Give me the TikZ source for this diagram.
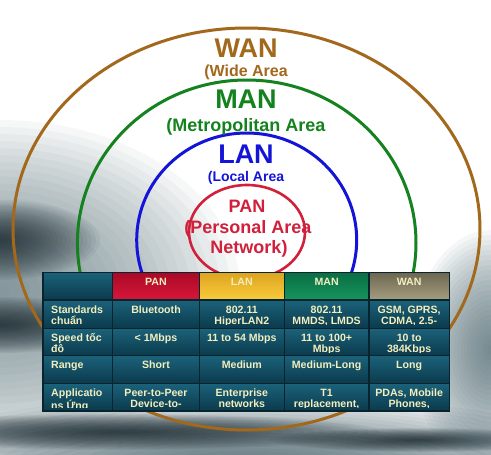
\documentclass[tikz,border=0pt]{standalone}
\usepackage{fontspec}
\setmainfont{Liberation Sans}
\definecolor{wanc}{HTML}{A2681C}
\definecolor{manc}{HTML}{14821E}
\definecolor{lanc}{HTML}{1414D8}
\definecolor{panc}{HTML}{D0203C}
\definecolor{txtc}{HTML}{F2EEBE}
\definecolor{gridc}{HTML}{08242E}
\definecolor{tealtop}{HTML}{1B627A}
\definecolor{tealbot}{HTML}{0B3A4C}
\definecolor{redtop}{HTML}{A80A26}
\definecolor{redbot}{HTML}{D8163A}
\definecolor{goldtop}{HTML}{DCA420}
\definecolor{goldbot}{HTML}{FACC3C}
\definecolor{greentop}{HTML}{0A6E44}
\definecolor{greenbot}{HTML}{16945E}
\definecolor{khakitop}{HTML}{6C6650}
\definecolor{khakibot}{HTML}{A69E80}
\definecolor{hazec}{HTML}{5F7780}
\definecolor{darkc}{HTML}{0E1E24}
\definecolor{bandc}{HTML}{2E4A55}
\definecolor{sidec}{HTML}{4A6670}
\newcommand\blob[5]{\foreach \k in {1,...,24}{\fill[#5,opacity=0.05] (#1,#2) ellipse ({#3*\k/24} and {#4*\k/24});}}
\newcommand\strutx{\vrule height 10pt depth 0pt width 0pt\relax}
\newcommand\tcellL[6]{%
  \begin{scope}
    \clip (#2,#4) rectangle (#3,#4+24.6);
    \node[celltxt, anchor=north west, align=left] (#1) at (#2+8, #4+3) {\lineskiplimit=-20pt\relax\strutx #6};
  \end{scope}}
\newcommand\tcellC[6]{%
  \begin{scope}
    \clip (#2,#4) rectangle (#3,#4+24.6);
    \node[celltxt, anchor=north, align=center] (#1) at ({(#2+#3)/2}, #4+3) {\lineskiplimit=-20pt\relax\strutx #6};
  \end{scope}}
\newcommand\tbg[6]{\shade[top color=#5, bottom color=#6] (#1,#3) rectangle (#2,#4);}
\begin{document}
\begin{tikzpicture}[x=1pt,y=-1pt,
  ring/.style={line width=3pt},
  bigtxt/.style={font=\fontsize{27}{30}\selectfont\bfseries, inner sep=0},
  subtxt/.style={inner sep=0},
  celltxt/.style={text=txtc, inner sep=0, font=\fontsize{10.6}{11.3}\selectfont\bfseries}]
\useasboundingbox (0,0) rectangle (491,455);
\fill[white] (0,0) rectangle (491,455);
% background swooshes
\begin{scope}
  \clip (0,0) rectangle (491,455);
  \blob{0}{290}{240}{170}{hazec}
  \blob{0}{240}{100}{40}{darkc}
  \blob{0}{325}{130}{28}{darkc}
  \blob{245}{470}{380}{75}{bandc}
  \blob{120}{432}{260}{18}{darkc}
  \blob{420}{440}{150}{12}{darkc}
  \blob{491}{350}{80}{120}{sidec}
\end{scope}
% rings
\draw[ring, wanc] (246.5,229) ellipse (233.5 and 201);
\draw[ring, manc] (246.7,243) ellipse (169.3 and 163);
\draw[ring, lanc] (246.7,240) ellipse (110 and 107);
\draw[line width=2.6pt, panc] (247,232) ellipse (58 and 47);
% ring labels
\node[bigtxt, text=wanc, anchor=base] (wan) at (246,57) {WAN};
\node[subtxt, text=wanc, anchor=base, font=\fontsize{16}{18}\selectfont\bfseries] (wansub) at (246,77) {(Wide Area};
\node[bigtxt, text=manc, anchor=base] (man) at (246,108) {MAN};
\node[subtxt, text=manc, anchor=base, font=\fontsize{18}{20}\selectfont\bfseries] (mansub) at (246,131) {(Metropolitan Area};
\node[bigtxt, text=lanc, anchor=base] (lan) at (246,163) {LAN};
\node[subtxt, text=lanc, anchor=base, font=\fontsize{14}{16}\selectfont\bfseries] (lansub) at (246,181) {(Local Area};
\node[subtxt, text=panc, anchor=base, font=\fontsize{18}{20}\selectfont\bfseries] (pan) at (247,212) {PAN};
\node[subtxt, text=panc, anchor=base, font=\fontsize{18}{20}\selectfont\bfseries] (pansub) at (248,233) {(Personal Area};
\node[subtxt, text=panc, anchor=base, font=\fontsize{18}{20}\selectfont\bfseries] (pansub2) at (249,253) {Network)};
% table backgrounds
\tbg{43}{112.7}{272.3}{300}{tealtop}{tealbot}
\tbg{112.7}{199.3}{272.3}{300}{redtop}{redbot}
\tbg{199.3}{284.3}{272.3}{300}{goldtop}{goldbot}
\tbg{284.3}{369}{272.3}{300}{greentop}{greenbot}
\tbg{369}{449.3}{272.3}{300}{khakitop}{khakibot}
\foreach \ya/\yb in {300/328.3, 328.3/355.7, 355.7/383.3, 383.3/410.7}{
  \foreach \xa/\xb in {43/112.7, 112.7/199.3, 199.3/284.3, 284.3/369, 369/449.3}{
    \tbg{\xa}{\xb}{\ya}{\yb}{tealtop}{tealbot}
  }
}
% grid
\draw[gridc, line width=1.6pt] (43,272.3) rectangle (449.3,410.7);
\foreach \xx in {112.7,199.3,284.3,369}{\draw[gridc, line width=1.4pt] (\xx,272.3) -- (\xx,410.7);}
\foreach \yy in {300,328.3,355.7,383.3}{\draw[gridc, line width=1.4pt] (43,\yy) -- (449.3,\yy);}
% header texts
\tcellC{hpan}{112.7}{199.3}{272.3}{300}{PAN}
\tcellC{hlan}{199.3}{284.3}{272.3}{300}{LAN}
\tcellC{hman}{284.3}{369}{272.3}{300}{MAN}
\tcellC{hwan}{369}{449.3}{272.3}{300}{WAN}
% row 1
\tcellL{r1a}{43}{112.7}{300}{328.3}{Standards\\chuẩn}
\tcellC{r1b}{112.7}{199.3}{300}{328.3}{Bluetooth}
\tcellC{r1c}{199.3}{284.3}{300}{328.3}{802.11\\HiperLAN2}
\tcellC{r1d}{284.3}{369}{300}{328.3}{802.11\\MMDS, LMDS}
\tcellC{r1e}{369}{449.3}{300}{328.3}{GSM, GPRS,\\CDMA, 2.5-}
% row 2
\tcellL{r2a}{43}{112.7}{328.3}{355.7}{Speed tốc\\độ}
\tcellC{r2b}{112.7}{199.3}{328.3}{355.7}{< 1Mbps}
\tcellC{r2c}{199.3}{284.3}{328.3}{355.7}{11 to 54 Mbps}
\tcellC{r2d}{284.3}{369}{328.3}{355.7}{11 to 100+\\Mbps}
\tcellC{r2e}{369}{449.3}{328.3}{355.7}{10 to\\384Kbps}
% row 3
\tcellL{r3a}{43}{112.7}{355.7}{383.3}{Range}
\tcellC{r3b}{112.7}{199.3}{355.7}{383.3}{Short}
\tcellC{r3c}{199.3}{284.3}{355.7}{383.3}{Medium}
\tcellC{r3d}{284.3}{369}{355.7}{383.3}{Medium-Long}
\tcellC{r3e}{369}{449.3}{355.7}{383.3}{Long}
% row 4
\tcellL{r4a}{43}{112.7}{383.3}{410.7}{Applicatio\\ns Ứng}
\tcellC{r4b}{112.7}{199.3}{383.3}{410.7}{Peer-to-Peer\\Device-to-}
\tcellC{r4c}{199.3}{284.3}{383.3}{410.7}{Enterprise\\networks}
\tcellC{r4d}{284.3}{369}{383.3}{410.7}{T1\\replacement,}
\tcellC{r4e}{369}{449.3}{383.3}{410.7}{PDAs, Mobile\\Phones,}
\end{tikzpicture}
\end{document}
